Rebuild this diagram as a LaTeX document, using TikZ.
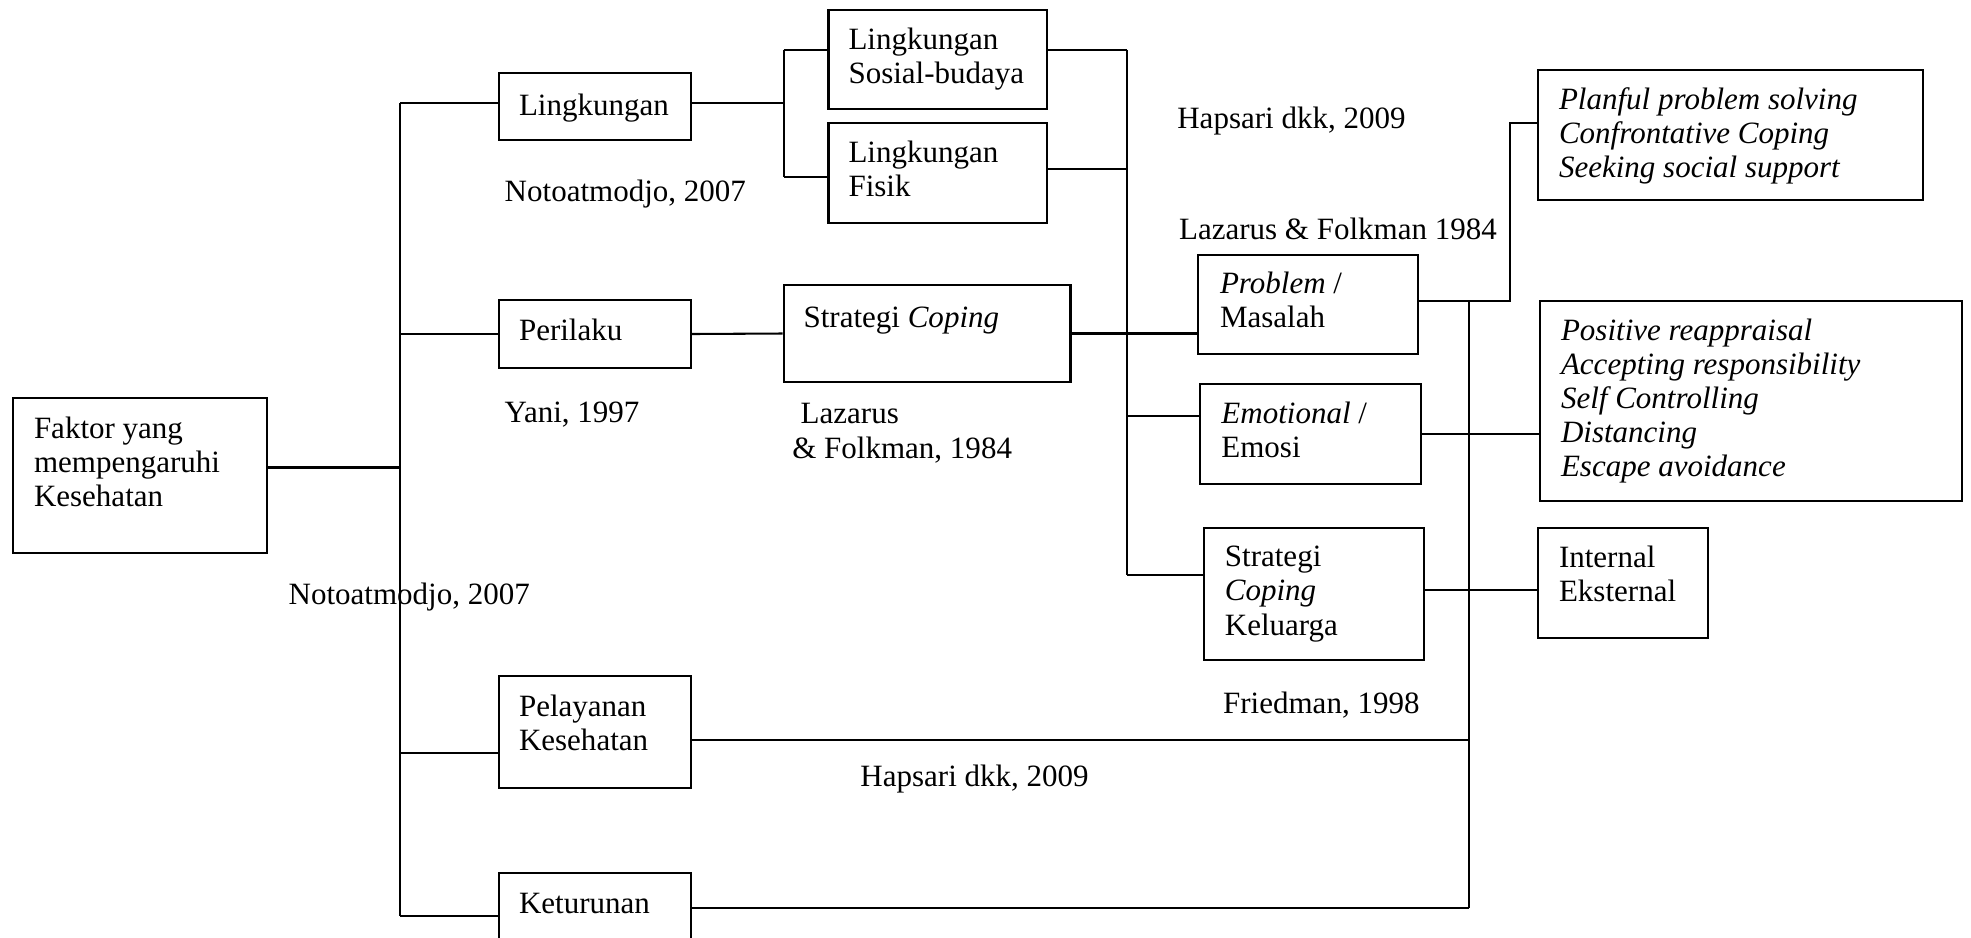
\documentclass[tikz,border=0pt]{standalone}
\usepackage{fontspec}
\setmainfont{Liberation Serif}
\usetikzlibrary{fit}
\begin{document}
\begin{tikzpicture}[x=0.387pt, y=-0.387pt, line width=0.8pt,
    font=\fontsize{12}{13.2}\selectfont,
    kotak/.style={draw, inner sep=0pt},
    isi/.style={anchor=north west, align=left, inner sep=0pt},
    sumber/.style={anchor=base west, inner sep=0pt}]
    \clip (0,0) rectangle (1971,937);

    % Kotak
    \node[kotak, fit={(13,398) (267,553)}] (faktor) {};
    \node[kotak, fit={(499,73) (691,140)}] (lingk) {};
    \node[kotak, fit={(499,300) (691,368)}] (perilaku) {};
    \node[kotak, fit={(499,676) (691,788)}] (pelayanan) {};
    \node[kotak, fit={(499,873) (691,959)}] (keturunan) {};
    \node[kotak, fit={(828.5,10) (1047.4,109.3)}] (sosial) {};
    \node[kotak, fit={(828.5,123.3) (1047.4,222.7)}] (fisik) {};
    \node[kotak, fit={(783.6,285) (1070.5,382)}] (coping) {};
    \node[kotak, fit={(1198,255) (1418.3,354.3)}] (problem) {};
    \node[kotak, fit={(1200.4,384.3) (1420.6,483.7)}] (emosi) {};
    \node[kotak, fit={(1203.9,528.3) (1424.2,660)}] (keluarga) {};
    \node[kotak, fit={(1538,69.7) (1923.4,200)}] (planful) {};
    \node[kotak, fit={(1540,300.7) (1962.2,500.7)}] (positive) {};
    \node[kotak, fit={(1538,528.3) (1707.9,638.3)}] (internal) {};

    % Isi kotak
    \node[isi] (faktor-t) at ([shift={(21,19)}]faktor.north west) {Faktor yang\\mempengaruhi\\Kesehatan};
    \node[isi] (lingk-t) at ([shift={(20,21)}]lingk.north west) {Lingkungan};
    \node[isi] (perilaku-t) at ([shift={(20,19)}]perilaku.north west) {Perilaku};
    \node[isi] (pelayanan-t) at ([shift={(20,19)}]pelayanan.north west) {Pelayanan\\Kesehatan};
    \node[isi] (keturunan-t) at ([shift={(20,20)}]keturunan.north west) {Keturunan};
    \node[isi] (sosial-t) at ([shift={(20,18)}]sosial.north west) {Lingkungan\\Sosial-budaya};
    \node[isi] (fisik-t) at ([shift={(20,18)}]fisik.north west) {Lingkungan\\Fisik};
    \node[isi] (coping-t) at ([shift={(20,22)}]coping.north west) {Strategi \textit{Coping}};
    \node[isi] (problem-t) at ([shift={(22,17)}]problem.north west) {\textit{Problem} /\\Masalah};
    \node[isi] (emosi-t) at ([shift={(21,18)}]emosi.north west) {\textit{Emotional} /\\Emosi};
    \node[isi] (keluarga-t) at ([shift={(21,18)}]keluarga.north west) {Strategi\\\textit{Coping}\\Keluarga};
    \node[isi, font=\fontsize{12}{13.2}\selectfont\itshape] (planful-t) at ([shift={(21,18)}]planful.north west) {Planful problem solving\\Confrontative Coping\\Seeking social support};
    \node[isi, font=\fontsize{12}{13.2}\selectfont\itshape] (positive-t) at ([shift={(21,18)}]positive.north west) {Positive reappraisal\\Accepting responsibility\\Self Controlling\\Distancing\\Escape avoidance};
    \node[isi] (internal-t) at ([shift={(21,18)}]internal.north west) {Internal\\Eksternal};

    % Sumber
    \node[sumber] (s-noto1) at (503.7,201.7) {Notoatmodjo, 2007};
    \node[sumber] (s-hapsari1) at (1176.3,128.3) {Hapsari dkk, 2009};
    \node[sumber] (s-lazarus1) at (1178,239.3) {Lazarus \& Folkman 1984};
    \node[sumber] (s-yani) at (503.7,422.7) {Yani, 1997};
    \node[sumber] (s-lazarus2) at (799.7,423.3) {Lazarus};
    \node[sumber] (s-folkman2) at (791.3,458.3) {\& Folkman, 1984};
    \node[sumber] (s-noto2) at (287.6,604) {Notoatmodjo, 2007};
    \node[sumber] (s-hapsari2) at (859.4,786.7) {Hapsari dkk, 2009};
    \node[sumber] (s-friedman) at (1222.1,713.3) {Friedman, 1998};

    % Garis cabang
    \coordinate (batang) at (400,0);
    \coordinate (cab1) at (783.6,0);
    \coordinate (cab2) at (1127,0);
    \coordinate (cab3) at (1469.4,0);
    \coordinate (cab4) at (1510,0);

    % Faktor ke batang utama
    \draw ([yshift=3.1pt]faktor.east) -- ([yshift=3.1pt]faktor.east -| batang);
    \draw ([yshift=1.2pt]lingk.west -| batang) -- (keturunan.west -| batang);
    \draw ([yshift=1.2pt]lingk.west -| batang) -- ([yshift=1.2pt]lingk.west);
    \draw (perilaku.west -| batang) -- (perilaku.west);
    \draw ([yshift=-8pt]pelayanan.west -| batang) -- ([yshift=-8pt]pelayanan.west);
    \draw (keturunan.west -| batang) -- (keturunan.west);

    % Lingkungan
    \draw ([yshift=1.2pt]lingk.east) -- ([yshift=1.2pt]lingk.east -| cab1);
    \draw ([yshift=3.75pt]sosial.west -| cab1) -- ([yshift=-1.4pt]fisik.west -| cab1);
    \draw ([yshift=3.75pt]sosial.west -| cab1) -- ([yshift=3.75pt]sosial.west);
    \draw ([yshift=-1.4pt]fisik.west -| cab1) -- ([yshift=-1.4pt]fisik.west);
    \draw ([yshift=3.75pt]sosial.east) -- ([yshift=3.75pt]sosial.east -| cab2);
    \draw ([yshift=1.5pt]fisik.east) -- ([yshift=1.5pt]fisik.east -| cab2);

    % Perilaku dan coping
    \draw (perilaku.east) -- (coping.west);
    \draw (coping.east) -- (coping.east -| problem.west);
    \draw ([yshift=3.75pt]sosial.east -| cab2) -- ([yshift=7.4pt]keluarga.west -| cab2);
    \draw ([yshift=6.85pt]emosi.west -| cab2) -- ([yshift=6.85pt]emosi.west);
    \draw ([yshift=7.4pt]keluarga.west -| cab2) -- ([yshift=7.4pt]keluarga.west);

    % Sisi kanan
    \draw ([yshift=1.55pt]problem.east) -- ([yshift=1.55pt]problem.east -| cab4)
        -- ([yshift=4.5pt]planful.west -| cab4) -- ([yshift=4.5pt]planful.west);
    \draw ([yshift=1.55pt]problem.east -| cab3) -- ([yshift=3.1pt]keturunan.east -| cab3);
    \draw (emosi.east) -- (emosi.east -| positive.west);
    \draw ([yshift=1.75pt]keluarga.east) -- ([yshift=1.75pt]keluarga.east -| internal.west);
    \draw ([yshift=-3.1pt]pelayanan.east) -- ([yshift=-3.1pt]pelayanan.east -| cab3);
    \draw ([yshift=3.1pt]keturunan.east) -- ([yshift=3.1pt]keturunan.east -| cab3);
\end{tikzpicture}
\end{document}
